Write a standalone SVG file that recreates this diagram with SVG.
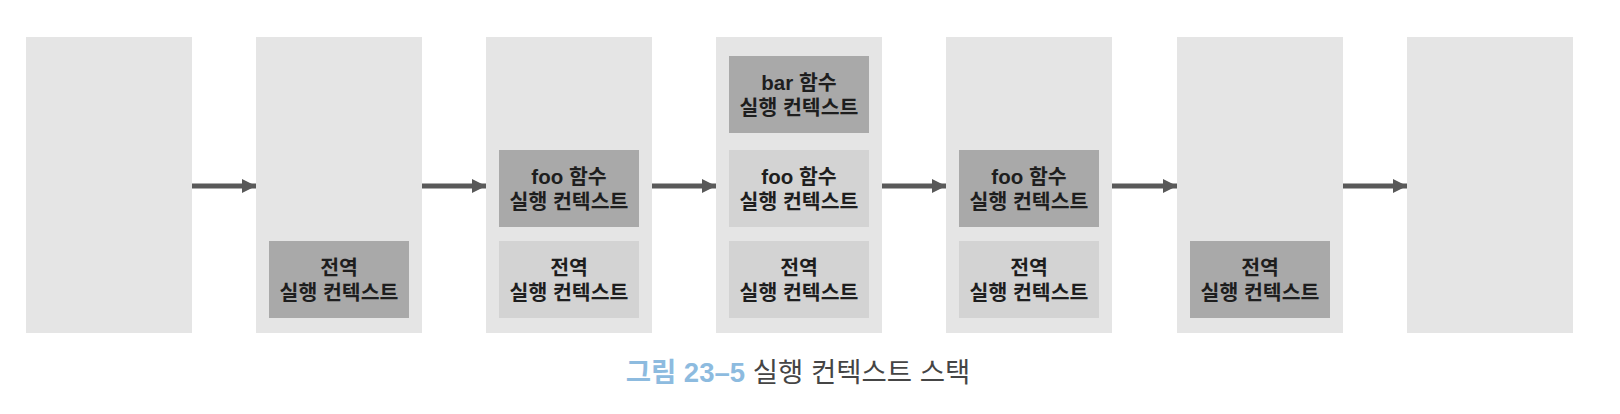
<svg xmlns="http://www.w3.org/2000/svg" width="1620" height="414" viewBox="0 0 1620 414">
<defs>
<style>
.panel{fill:#e5e5e5}
.dark{fill:#a9a9a9}
.light{fill:#d3d3d3}
.t{font-family:"Liberation Sans","Noto Sans CJK KR",sans-serif;font-size:20.5px;font-weight:600;fill:#1e1e1e;text-anchor:middle}
.conn{stroke:#595959;stroke-width:5;fill:none}
.cap{font-family:"Liberation Sans","Noto Sans CJK KR",sans-serif;font-size:27.5px}
</style>
<marker id="ah" markerUnits="userSpaceOnUse" markerWidth="15" markerHeight="15" refX="14" refY="7" orient="auto">
<path d="M0,0 L14,7 L0,14 Z" fill="#595959"/>
</marker>
</defs>
<rect width="1620" height="414" fill="#ffffff"/>

<g id="stack1"><rect class="panel" x="26" y="37" width="166" height="296"/></g>

<g id="stack2"><rect class="panel" x="256" y="37" width="166" height="296"/>
<g id="s2-global"><rect class="dark" x="269" y="241" width="140" height="77"/>
<text class="t" x="339" y="275">전역</text><text class="t" x="339" y="300">실행 컨텍스트</text></g>
</g>

<g id="stack3"><rect class="panel" x="486" y="37" width="166" height="296"/>
<g id="s3-foo"><rect class="dark" x="499" y="150" width="140" height="77"/>
<text class="t" x="569" y="184">foo 함수</text><text class="t" x="569" y="209">실행 컨텍스트</text></g>
<g id="s3-global"><rect class="light" x="499" y="241" width="140" height="77"/>
<text class="t" x="569" y="275">전역</text><text class="t" x="569" y="300">실행 컨텍스트</text></g>
</g>

<g id="stack4"><rect class="panel" x="716" y="37" width="166" height="296"/>
<g id="s4-bar"><rect class="dark" x="729" y="56" width="140" height="77"/>
<text class="t" x="799" y="90">bar 함수</text><text class="t" x="799" y="115">실행 컨텍스트</text></g>
<g id="s4-foo"><rect class="light" x="729" y="150" width="140" height="77"/>
<text class="t" x="799" y="184">foo 함수</text><text class="t" x="799" y="209">실행 컨텍스트</text></g>
<g id="s4-global"><rect class="light" x="729" y="241" width="140" height="77"/>
<text class="t" x="799" y="275">전역</text><text class="t" x="799" y="300">실행 컨텍스트</text></g>
</g>

<g id="stack5"><rect class="panel" x="946" y="37" width="166" height="296"/>
<g id="s5-foo"><rect class="dark" x="959" y="150" width="140" height="77"/>
<text class="t" x="1029" y="184">foo 함수</text><text class="t" x="1029" y="209">실행 컨텍스트</text></g>
<g id="s5-global"><rect class="light" x="959" y="241" width="140" height="77"/>
<text class="t" x="1029" y="275">전역</text><text class="t" x="1029" y="300">실행 컨텍스트</text></g>
</g>

<g id="stack6"><rect class="panel" x="1177" y="37" width="166" height="296"/>
<g id="s6-global"><rect class="dark" x="1190" y="241" width="140" height="77"/>
<text class="t" x="1260" y="275">전역</text><text class="t" x="1260" y="300">실행 컨텍스트</text></g>
</g>

<g id="stack7"><rect class="panel" x="1407" y="37" width="166" height="296"/></g>

<g id="connectors">
<line class="conn" x1="192" y1="186" x2="256" y2="186" marker-end="url(#ah)"/>
<line class="conn" x1="422" y1="186" x2="486" y2="186" marker-end="url(#ah)"/>
<line class="conn" x1="652" y1="186" x2="716" y2="186" marker-end="url(#ah)"/>
<line class="conn" x1="882" y1="186" x2="946" y2="186" marker-end="url(#ah)"/>
<line class="conn" x1="1112" y1="186" x2="1177" y2="186" marker-end="url(#ah)"/>
<line class="conn" x1="1343" y1="186" x2="1407" y2="186" marker-end="url(#ah)"/>
</g>

<text class="cap" x="798" y="382" text-anchor="middle"><tspan fill="#8dbbdf" font-weight="bold">그림 23–5</tspan><tspan fill="#454545"> 실행 컨텍스트 스택</tspan></text>
</svg>
